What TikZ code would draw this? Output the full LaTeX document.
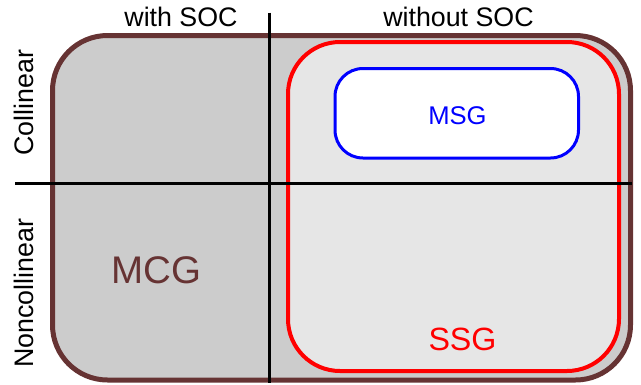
\documentclass[tikz,border=0pt]{standalone}
\usepackage{fontspec}
\setmainfont{Liberation Sans}
\definecolor{mcgbrown}{RGB}{102,51,51}
\definecolor{outergray}{RGB}{204,204,204}
\definecolor{innergray}{RGB}{230,230,230}

\begin{document}
\begin{tikzpicture}[x=1pt,y=-1pt,
	box/.style={draw,rectangle,inner sep=0,outer sep=0},
	lbl/.style={anchor=base,inner sep=0,font=\fontsize{26.8}{30}\selectfont}]
	\useasboundingbox (0,0) rectangle (641,384);
	\node[box,draw=mcgbrown,fill=outergray,line width=5,rounded corners=55,minimum width=578,minimum height=344.5] (mcgbox) at (341.5,207.75) {};
	\node[box,draw=red,fill=innergray,line width=4,rounded corners=52,minimum width=331,minimum height=329] (ssgbox) at (453.5,206.5) {};
	\node[box,draw=blue,fill=white,line width=3,rounded corners=28,minimum width=243.5,minimum height=89.5] (msgbox) at (456.75,113.25) {};
	\coordinate (vtop) at (269.5,12.7);
	\coordinate (vbot) at (269.5,382.7);
	\coordinate (hleft) at (15,183.3);
	\coordinate (hright) at (631.7,183.3);
	\draw[line width=2.8] (vtop) -- (vbot);
	\draw[line width=2.8] (hleft) -- (hright);
	\node[lbl] (withsoc) at (181,26) {with SOC};
	\node[lbl] (withoutsoc) at (458.5,26) {without SOC};
	\node[lbl,rotate=90] (collinear) at (33,102.5) {Collinear};
	\node[lbl,rotate=90] (noncollinear) at (33,293.5) {Noncollinear};
	\node[lbl,text=mcgbrown,font=\fontsize{38.5}{44}\selectfont] (mcg) at (156.7,283.3) {MCG};
	\node[lbl,text=blue,font=\fontsize{25.6}{30}\selectfont] (msg) at (457.5,124.4) {MSG};
	\node[lbl,text=red,font=\fontsize{32.2}{36}\selectfont] (ssg) at (462.5,350) {SSG};
\end{tikzpicture}
\end{document}
